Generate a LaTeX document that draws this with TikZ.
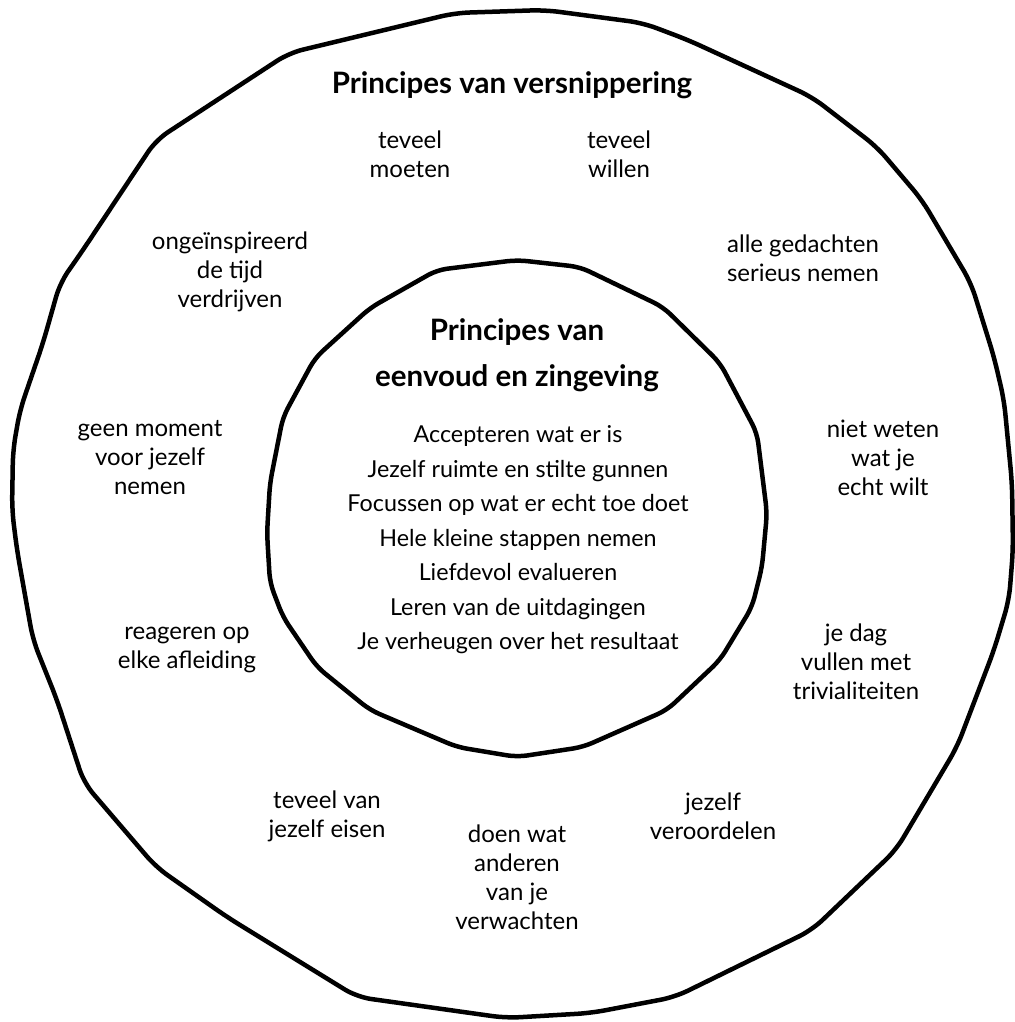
\documentclass[tikz,border=0pt]{standalone}
\usepackage{fontspec}
\setmainfont{Lato}
\tikzset{
  rim/.style={line width=4.5pt,line join=round,rounded corners=14pt},
  item/.style={align=center,inner sep=0pt,font=\fontsize{24}{29}\selectfont},
  head/.style={align=center,inner sep=0pt,font=\fontsize{29.5}{46}\selectfont\bfseries},
  rule/.style={align=center,inner sep=0pt,font=\fontsize{23.3}{34.5}\selectfont}
}
\begin{document}
\begin{tikzpicture}[x=1pt,y=-1pt]
  \useasboundingbox (0,0) rectangle (1014,1022);
  % Outer ring
  \draw[rim] (545,10) -- (643,23) -- (688,40) -- (812,97) -- (877,147) -- (922,200)
    -- (971,283) -- (994,357) -- (1004,400) -- (1012,483) -- (1013,550) -- (1009,600)
    -- (994,650) -- (957,747) -- (896,850) -- (812,930) -- (675,997) -- (591,1013)
    -- (506,1018) -- (357,997) -- (227,917) -- (156,867) -- (84,783) -- (57,700)
    -- (33,640) -- (17,550) -- (12,510) -- (13,450) -- (20,410) -- (43,343)
    -- (60,283) -- (83,250) -- (156,140) -- (289,53) -- (455,13) -- cycle;
  % Inner circle
  \draw[rim,rounded corners=10pt] (517,260) -- (580,267) -- (663,307) -- (720,363) -- (757,433)
    -- (767,513) -- (762,567) -- (752,607) -- (720,660) -- (667,710) -- (583,747)
    -- (517,757) -- (457,747) -- (370,710) -- (317,667) -- (283,617) -- (270,583)
    -- (267,533) -- (270,483) -- (283,417) -- (315,358) -- (370,308) -- (437,270) -- cycle;
  % Titles
  \node[head] (versnip) at (512,85) {Principes van versnippering};
  \node[head] (eenvoud) at (517,355) {Principes van\\eenvoud en zingeving};
  % Inner principles
  \node[rule] (regels) at (518,540) {Accepteren wat er is\\Jezelf ruimte en stilte gunnen\\Focussen op wat er echt toe doet\\Hele kleine stappen nemen\\Liefdevol evalueren\\Leren van de uitdagingen\\Je verheugen over het resultaat};
  % Outer items
  \node[item] (moeten) at (410,154) {teveel\\moeten};
  \node[item] (willen) at (619,154) {teveel\\willen};
  \node[item] (ongeinsp) at (230,272) {ongeïnspireerd\\de tijd\\verdrijven};
  \node[item] (gedachten) at (803,258) {alle gedachten\\serieus nemen};
  \node[item] (moment) at (150,458) {geen moment\\voor jezelf\\nemen};
  \node[item] (weten) at (883,458) {niet weten\\wat je\\echt wilt};
  \node[item] (afleiding) at (187,650) {reageren op\\elke afleiding};
  \node[item] (dag) at (856,662) {je dag\\vullen met\\trivialiteiten};
  \node[item] (eisen) at (327,816) {teveel van\\jezelf eisen};
  \node[item] (anderen) at (517,877) {doen wat\\anderen\\van je\\verwachten};
  \node[item] (oordeel) at (713,816) {jezelf\\veroordelen};
\end{tikzpicture}
\end{document}
